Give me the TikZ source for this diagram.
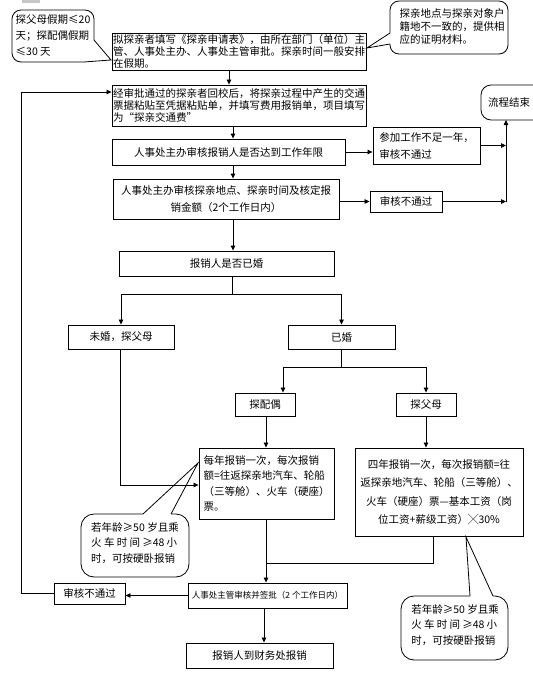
\documentclass[tikz,border=0pt]{standalone}
\usepackage{fontspec}
\setmainfont{Noto Sans CJK SC}
\usetikzlibrary{arrows.meta}
\newcommand\fsL{\fontsize{10.5}{12}\selectfont}
\newcommand\fsM{\fontsize{10.5}{17}\selectfont}
\newcommand\fsN{\fontsize{10.5}{15.5}\selectfont}
\newcommand\fsW{\fontsize{10.5}{18.5}\selectfont}
\newcommand\fsC{\fontsize{10.5}{13}\selectfont}
\newcommand\fsS{\fontsize{8.5}{10}\selectfont}
\begin{document}
\begin{tikzpicture}[x=1pt,y=-1pt,
  box/.style={draw, line width=0.9pt, inner sep=0pt, font=\fsL},
  arr/.style={-{Triangle[length=5pt,width=4.5pt]}, line width=0.8pt},
  ln/.style={line width=0.8pt},
  txt/.style={inner sep=0pt, align=left}]
\useasboundingbox (0,0) rectangle (533,683);
\fill[gray!45] (22,0) rectangle (40,3);

% main boxes
\node[box, minimum width=254pt, minimum height=37pt, align=left] (b1) at (239,51.5)
  {拟探亲者填写《探亲申请表》，由所在部门（单位）主\\管、人事处主办、人事处主管审批。探亲时间一般安排\\在假期。};
\node[box, minimum width=254pt, minimum height=41pt, align=left] (b2) at (239,105.5)
  {经审批通过的探亲者回校后，将探亲过程中产生的交通\\票据粘贴至凭据粘贴单，并填写费用报销单，项目填写\\为“探亲交通费”};
\node[box, minimum width=233pt, minimum height=26pt] (b3) at (228.5,152) {人事处主办审核报销人是否达到工作年限};
\node[box, minimum width=107pt, minimum height=37pt, align=left, font=\fsM] (b4) at (426.5,145.5) {参加工作不足一年，\\审核不通过};
\node[box, minimum width=226pt, minimum height=40pt, align=center, font=\fsM] (b5) at (226,199)
  {人事处主办审核探亲地点、探亲时间及核定报\\销金额（2个工作日内）};
\node[box, minimum width=72pt, minimum height=21pt] (b6) at (406,201.5) {审核不通过};
\node[box, minimum width=215pt, minimum height=25pt] (b7) at (226.5,263.5) {报销人是否已婚};
\node[box, minimum width=106pt, minimum height=24pt] (n1) at (121,337) {未婚，探父母};
\node[box, minimum width=107pt, minimum height=24pt] (n2) at (341.5,337) {已婚};
\node[box, minimum width=60pt, minimum height=23pt] (n3) at (265,404.5) {探配偶};
\node[box, minimum width=60pt, minimum height=23pt] (n4) at (426,404.5) {探父母};
\node[box, minimum width=135pt, minimum height=71pt, align=left, font=\fsN] (b8) at (266.5,483.5)
  {每年报销一次，每次报销\\额=往返探亲地汽车、轮船\\（三等舱）、火车（硬座）\\票。};
\node[box, minimum width=168pt, minimum height=88pt, align=center, font=\fsW] (b9) at (439,492)
  {四年报销一次，每次报销额=往\\返探亲地汽车、轮船（三等舱）、\\火车（硬座）票—基本工资（岗\\位工资+薪级工资）╳30\%};
\node[box, minimum width=159pt, minimum height=25pt, font=\fsS] (b10) at (267.5,595.5) {人事处主管审核并签批（2 个工作日内）};
\node[box, minimum width=71pt, minimum height=21pt] (b11) at (89.5,593.5) {审核不通过};
\node[box, minimum width=147pt, minimum height=25pt] (b12) at (259.5,655.5) {报销人到财务处报销};

% end terminal
\draw[ln, rounded corners=10pt] (550,85) -- (481,85) -- (481,120) -- (550,120);
\node[txt, font=\fsL] (endt) at (509,103) {流程结束};
\coordinate (endb) at (506,120);

% callouts
\draw[ln, rounded corners=9pt] (84,62) -- (12,62) -- (12,10) -- (94,10) -- (94,40);
\draw[ln] (94,40) -- (111,60) -- (84,62);
\node[txt, font={\fontsize{10.5}{16}\selectfont}] (t1) at (53,35) {探父母假期≤20\\天；探配偶假期\\≤30 天};

\draw[ln, rounded corners=9pt] (390,33) -- (390,1) -- (508,1) -- (508,54) -- (390,54) -- (390,44);
\draw[ln] (390,33) -- (367,48) -- (390,44);
\node[txt, font=\fsC] (t2) at (452,27) {探亲地点与探亲对象户\\籍地不一致的，提供相\\应的证明材料。};

\draw[ln, rounded corners=13pt] (171,514) -- (189,514) -- (189,577) -- (81,577) -- (81,514) -- (143,514);
\draw[ln] (143,514) -- (198,463) -- (171,514);
\node[txt, font=\fsN] (t3) at (135,543) {若年龄≥50 岁且乘\\\makebox[86pt][s]{火 车 时 间 ≥48 小}\\时，可按硬卧报销};

\draw[ln, rounded corners=13pt] (493,596) -- (508,596) -- (508,660) -- (401,660) -- (401,596) -- (470,596);
\draw[ln] (470,596) -- (466,537) -- (493,596);
\node[txt, font=\fsN] (t4) at (455,625) {若年龄≥50 岁且乘\\\makebox[86pt][s]{火 车 时 间 ≥48 小}\\时，可按硬卧报销};

% connectors
\coordinate (cA) at (229,0);
\coordinate (cB) at (233,0);
\coordinate (cC) at (266,0);
\coordinate (cD) at (264,0);
\coordinate (rx) at (506,0);
\draw[arr] (b1.south -| cA) -- (b2.north -| cA);
\draw[arr] (b2.south -| cB) -- (b3.north -| cB);
\draw[arr] (b3.south -| cB) -- (b5.north -| cB);
\draw[arr] (b5.south -| cB) -- (b7.north -| cB);
\draw[arr] (b3.east) -- (b3.east -| b4.west);
\draw[arr] (b4.east) -- (b4.east -| rx);
\draw[arr] (b5.east |- b6.west) -- (b6.west);
\draw[arr] (b6.east) -- (b6.east -| rx);
\draw[arr] (b6.east -| rx) -- (endb);

\coordinate (j1) at (232,294);
\draw[ln] (b7.south -| j1) -- (j1);
\draw[arr] (j1) -| (n1.north);
\draw[arr] (j1) -| (n2.north);

\coordinate (j2) at (341.5,367);
\coordinate (n3in) at (283,0);
\draw[ln] (n2.south) -- (j2);
\draw[arr] (j2) -| (n3in |- n3.north);
\draw[arr] (j2) -| (n4.north);

\coordinate (n1x) at (120,485);
\draw[arr] (n1.south -| n1x) -- (n1x) -- (n1x -| b8.west);
\draw[arr] (n3.south -| cC) -- (b8.north -| cC);
\draw[arr] (n4.south) -- (n4.south |- b9.north);
\draw[arr] (b8.south -| cC) -- (b10.north -| cC);
\coordinate (j3) at (433,563);
\draw[ln] (b9.south -| j3) -- (j3) -- (j3 -| cC);
\draw[arr] (b10.west) -- (b10.west -| b11.east);
\coordinate (lp) at (21,92);
\draw[arr] (b11.west) -| (lp) -- (lp -| b2.west);
\draw[arr] (b10.south -| cD) -- (b12.north -| cD);
\end{tikzpicture}
\end{document}
